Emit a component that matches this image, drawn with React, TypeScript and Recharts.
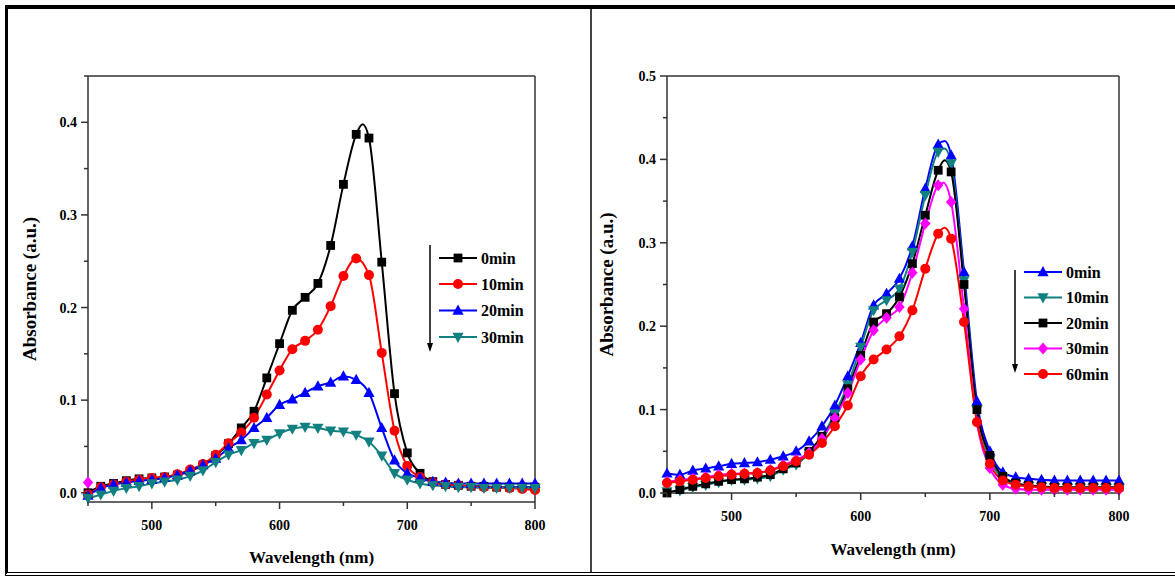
import React from 'react';
import { LineChart, Line, XAxis, YAxis, Legend, ReferenceLine } from 'recharts';

// ---------- data ----------
const WAVELENGTHS = [
  450, 460, 470, 480, 490, 500, 510, 520, 530, 540, 550, 560, 570, 580, 590, 600, 610, 620,
  630, 640, 650, 660, 670, 680, 690, 700, 710, 720, 730, 740, 750, 760, 770, 780, 790, 800,
];

const LEFT_NAMES = ['0min', '10min', '20min', '30min'];
const L_0MIN = [0.0, 0.007, 0.01, 0.013, 0.015, 0.016, 0.017, 0.019, 0.023, 0.03, 0.04, 0.053, 0.07, 0.088, 0.124, 0.161, 0.197, 0.211, 0.226, 0.267, 0.333, 0.387, 0.383, 0.249, 0.107, 0.043, 0.021, 0.012, 0.009, 0.008, 0.007, 0.007, 0.006, 0.006, 0.006, 0.006];
const L_10MIN = [-0.002, 0.006, 0.009, 0.012, 0.014, 0.016, 0.017, 0.02, 0.025, 0.031, 0.041, 0.0535, 0.065, 0.081, 0.106, 0.132, 0.155, 0.164, 0.176, 0.2015, 0.234, 0.253, 0.235, 0.151, 0.067, 0.029, 0.017, 0.011, 0.009, 0.008, 0.007, 0.006, 0.006, 0.005, 0.004, 0.003];
const L_20MIN = [-0.003, 0.005, 0.009, 0.011, 0.013, 0.014, 0.016, 0.019, 0.024, 0.03, 0.037, 0.048, 0.057, 0.07, 0.081, 0.095, 0.101, 0.108, 0.115, 0.119, 0.1257, 0.122, 0.108, 0.07, 0.035, 0.021, 0.016, 0.012, 0.011, 0.01, 0.01, 0.01, 0.01, 0.01, 0.01, 0.01];
const L_30MIN = [-0.006, -0.002, 0.002, 0.005, 0.007, 0.01, 0.012, 0.014, 0.018, 0.024, 0.033, 0.041, 0.046, 0.0535, 0.057, 0.064, 0.069, 0.071, 0.07, 0.067, 0.066, 0.0625, 0.055, 0.04, 0.021, 0.014, 0.01, 0.008, 0.007, 0.006, 0.006, 0.005, 0.005, 0.005, 0.005, 0.005];
const L_PEAK_NM = 665;
const L_0MIN_PEAK = 0.398;
const L_STRAY_NM = [450];
const L_STRAY_VAL = [0.011];

const RIGHT_NAMES = ['0min', '10min', '20min', '30min', '60min'];
const R_0MIN = [0.0235, 0.022, 0.027, 0.0295, 0.032, 0.035, 0.036, 0.037, 0.04, 0.044, 0.05, 0.062, 0.08, 0.105, 0.14, 0.18, 0.225, 0.239, 0.257, 0.296, 0.365, 0.418, 0.405, 0.265, 0.11, 0.05, 0.025, 0.019, 0.017, 0.016, 0.015, 0.015, 0.015, 0.015, 0.015, 0.015];
const R_10MIN = [0.002, 0.003, 0.007, 0.0096, 0.013, 0.0156, 0.016, 0.0174, 0.02, 0.028, 0.034, 0.048, 0.068, 0.095, 0.13, 0.175, 0.219, 0.231, 0.245, 0.289, 0.357, 0.409, 0.395, 0.255, 0.1, 0.04, 0.018, 0.01, 0.008, 0.007, 0.007, 0.006, 0.006, 0.006, 0.006, 0.006];
const R_20MIN = [0.0, 0.004, 0.008, 0.011, 0.014, 0.016, 0.017, 0.019, 0.022, 0.029, 0.036, 0.05, 0.068, 0.09, 0.125, 0.165, 0.205, 0.215, 0.235, 0.275, 0.333, 0.387, 0.385, 0.25, 0.1, 0.045, 0.02, 0.012, 0.009, 0.008, 0.007, 0.007, 0.007, 0.007, 0.007, 0.007];
const R_30MIN = [0.0134, 0.0156, 0.017, 0.019, 0.0216, 0.023, 0.0235, 0.024, 0.0276, 0.0336, 0.04, 0.048, 0.065, 0.09, 0.12, 0.16, 0.195, 0.21, 0.223, 0.264, 0.323, 0.369, 0.349, 0.221, 0.085, 0.03, 0.01, 0.005, 0.004, 0.004, 0.004, 0.004, 0.004, 0.004, 0.004, 0.004];
const R_60MIN = [0.012, 0.014, 0.016, 0.018, 0.02, 0.022, 0.023, 0.024, 0.027, 0.032, 0.038, 0.046, 0.06, 0.08, 0.105, 0.14, 0.16, 0.172, 0.188, 0.219, 0.269, 0.311, 0.305, 0.205, 0.085, 0.035, 0.015, 0.01, 0.008, 0.007, 0.006, 0.006, 0.006, 0.006, 0.006, 0.006];
const R_PEAK_NM = [665, 665, 665, 664, 665];
const R_PEAK_VAL = [0.422, 0.413, 0.399, 0.372, 0.318];

const X_TICKS = [450, 500, 550, 600, 650, 700, 750, 800];
const LEFT_Y_TICKS = [0, 0.05, 0.1, 0.15, 0.2, 0.25, 0.3, 0.35, 0.4, 0.45];
const RIGHT_Y_TICKS = [0, 0.05, 0.1, 0.15, 0.2, 0.25, 0.3, 0.35, 0.4, 0.45, 0.5];
const X_TITLE = 'Wavelength (nm)';
const Y_TITLE = 'Absorbance (a.u.)';

// ---------- styling ----------
const FONT = "'Liberation Serif', 'Times New Roman', serif";
const AXIS = '#333';
const BLACK = '#000000';
const RED = '#ff0000';
const BLUE = '#0000ff';
const TEAL = '#118080';
const MAGENTA = '#ff00ff';

type Shape = 'square' | 'circle' | 'up' | 'down' | 'diamond';

function buildSeries(values: number[], peakNm?: number, peakVal?: number) {
  const rows = WAVELENGTHS.map((nm, i) => ({ nm, v: values[i] }));
  if (peakNm != null && peakVal != null) {
    rows.push({ nm: peakNm, v: peakVal });
    rows.sort((a, b) => a.nm - b.nm);
  }
  return rows;
}

function Marker({ shape, x, y, color }: { shape: Shape; x: number; y: number; color: string }) {
  switch (shape) {
    case 'square':
      return <rect x={x - 4.4} y={y - 4.4} width={8.8} height={8.8} fill={color} />;
    case 'circle':
      return <circle cx={x} cy={y} r={5} fill={color} />;
    case 'up':
      return <polygon points={`${x},${y - 6} ${x - 5.6},${y + 4.2} ${x + 5.6},${y + 4.2}`} fill={color} />;
    case 'down':
      return <polygon points={`${x},${y + 6} ${x - 5.6},${y - 4.2} ${x + 5.6},${y - 4.2}`} fill={color} />;
    case 'diamond':
      return <polygon points={`${x},${y - 6} ${x + 5.2},${y} ${x},${y + 6} ${x - 5.2},${y}`} fill={color} />;
  }
  return null;
}

function makeDot(shape: Shape, color: string) {
  return (props: any) => {
    const { cx, cy, payload, index } = props;
    const key = `dot-${shape}-${index}`;
    if (cx == null || cy == null || !payload || payload.nm % 10 !== 0) return <g key={key} />;
    return (
      <g key={key}>
        <Marker shape={shape} x={cx} y={cy} color={color} />
      </g>
    );
  };
}

const XTick = (props: any) => {
  const { x, y, payload } = props;
  const major = payload.value % 100 === 0;
  return (
    <g>
      <line x1={x} x2={x} y1={y} y2={y + (major ? 7 : 4)} stroke={AXIS} strokeWidth={1.5} />
      {major && (
        <text x={x} y={y + 28} textAnchor="middle" fontFamily={FONT} fontWeight="bold" fontSize={14} fill="#000">
          {payload.value}
        </text>
      )}
    </g>
  );
};

const YTick = (props: any) => {
  const { x, y, payload } = props;
  const major = Math.round(payload.value * 100) % 10 === 0;
  return (
    <g>
      <line x1={x - (major ? 7 : 4)} x2={x} y1={y} y2={y} stroke={AXIS} strokeWidth={1.5} />
      {major && (
        <text x={x - 11} y={y + 5} textAnchor="end" fontFamily={FONT} fontWeight="bold" fontSize={14} fill="#000">
          {payload.value.toFixed(1)}
        </text>
      )}
    </g>
  );
};

type LegendItem = { name: string; color: string; shape: Shape };

function legendContent(items: LegendItem[], ys: number[], arrowTop: number, arrowBottom: number, w: number, h: number) {
  return () => (
    <svg width={w} height={h} style={{ display: 'block', overflow: 'visible' }}>
      <line x1={10} x2={10} y1={arrowTop} y2={arrowBottom - 6} stroke="#000" strokeWidth={1.5} />
      <polygon points={`${10},${arrowBottom} ${7},${arrowBottom - 9} ${13},${arrowBottom - 9}`} fill="#000" />
      {items.map((it, i) => (
        <g key={it.name}>
          <line x1={19} x2={57} y1={ys[i]} y2={ys[i]} stroke={it.color} strokeWidth={2} />
          <Marker shape={it.shape} x={38} y={ys[i]} color={it.color} />
          <text x={61} y={ys[i] + 5.5} fontFamily={FONT} fontWeight="bold" fontSize={16} fill="#000">
            {it.name}
          </text>
        </g>
      ))}
    </svg>
  );
}

const LEFT_ITEMS: LegendItem[] = [
  { name: LEFT_NAMES[0], color: BLACK, shape: 'square' },
  { name: LEFT_NAMES[1], color: RED, shape: 'circle' },
  { name: LEFT_NAMES[2], color: BLUE, shape: 'up' },
  { name: LEFT_NAMES[3], color: TEAL, shape: 'down' },
];
const RIGHT_ITEMS: LegendItem[] = [
  { name: RIGHT_NAMES[0], color: BLUE, shape: 'up' },
  { name: RIGHT_NAMES[1], color: TEAL, shape: 'down' },
  { name: RIGHT_NAMES[2], color: BLACK, shape: 'square' },
  { name: RIGHT_NAMES[3], color: MAGENTA, shape: 'diamond' },
  { name: RIGHT_NAMES[4], color: RED, shape: 'circle' },
];
const LEFT_VALUES = [L_0MIN, L_10MIN, L_20MIN, L_30MIN];
const RIGHT_VALUES = [R_0MIN, R_10MIN, R_20MIN, R_30MIN, R_60MIN];

const titleStyle = { fontFamily: FONT, fontWeight: 'bold' as const, fontSize: 17, fill: '#000' };
const yTitleStyle = { ...titleStyle, fontSize: 19, textAnchor: 'middle' as const };

function LeftChart() {
  return (
    <div style={{ position: 'absolute', left: 0, top: 0 }}>
      <LineChart width={590} height={576} margin={{ top: 76, right: 55, left: 28, bottom: 8 }}>
        <XAxis
          dataKey="nm"
          type="number"
          domain={[450, 800]}
          ticks={X_TICKS}
          interval={0}
          tickSize={0}
          tickMargin={0}
          tickLine={false}
          tick={<XTick />}
          height={66}
          axisLine={{ stroke: AXIS, strokeWidth: 1.5 }}
          label={{ value: X_TITLE, position: 'insideBottom', offset: 5, style: titleStyle }}
        />
        <YAxis
          type="number"
          domain={[-0.01, 0.45]}
          ticks={LEFT_Y_TICKS}
          interval={0}
          tickSize={0}
          tickMargin={0}
          tickLine={false}
          tick={<YTick />}
          width={60}
          axisLine={{ stroke: AXIS, strokeWidth: 1.5 }}
          label={{ value: Y_TITLE, angle: -90, position: 'insideLeft', offset: 1, style: yTitleStyle }}
        />
        <ReferenceLine y={0.45} stroke={AXIS} strokeWidth={1.5} />
        <ReferenceLine x={800} stroke={AXIS} strokeWidth={1.5} />
        {LEFT_ITEMS.map((it, i) => (
          <Line
            key={it.name}
            name={it.name}
            data={i === 0 ? buildSeries(LEFT_VALUES[i], L_PEAK_NM, L_0MIN_PEAK) : buildSeries(LEFT_VALUES[i])}
            dataKey="v"
            type="monotone"
            stroke={it.color}
            strokeWidth={2}
            dot={makeDot(it.shape, it.color)}
            activeDot={false}
            isAnimationActive={false}
          />
        ))}
        <Line
          data={L_STRAY_NM.map((nm, i) => ({ nm, v: L_STRAY_VAL[i] }))}
          dataKey="v"
          stroke="none"
          dot={makeDot('diamond', MAGENTA)}
          activeDot={false}
          legendType="none"
          isAnimationActive={false}
        />
        <Legend
          layout="vertical"
          align="center"
          verticalAlign="middle"
          wrapperStyle={{ left: 420, top: 235, width: 120, height: 125 }}
          content={legendContent(LEFT_ITEMS, [23, 49, 75.5, 102], 10, 117, 120, 125)}
        />
      </LineChart>
    </div>
  );
}

function RightChart() {
  return (
    <div style={{ position: 'absolute', left: 592, top: 0 }}>
      <LineChart width={583} height={576} margin={{ top: 76, right: 56, left: 15, bottom: 17 }}>
        <XAxis
          dataKey="nm"
          type="number"
          domain={[450, 800]}
          ticks={X_TICKS}
          interval={0}
          tickSize={0}
          tickMargin={0}
          tickLine={false}
          tick={<XTick />}
          height={66}
          axisLine={{ stroke: AXIS, strokeWidth: 1.5 }}
          label={{ value: X_TITLE, position: 'insideBottom', offset: 4, style: titleStyle }}
        />
        <YAxis
          type="number"
          domain={[0, 0.5]}
          ticks={RIGHT_Y_TICKS}
          interval={0}
          tickSize={0}
          tickMargin={0}
          tickLine={false}
          tick={<YTick />}
          width={60}
          axisLine={{ stroke: AXIS, strokeWidth: 1.5 }}
          label={{ value: Y_TITLE, angle: -90, position: 'insideLeft', offset: -1, style: yTitleStyle }}
        />
        <ReferenceLine y={0.5} stroke={AXIS} strokeWidth={1.5} />
        <ReferenceLine x={800} stroke={AXIS} strokeWidth={1.5} />
        {RIGHT_ITEMS.map((it, i) => (
          <Line
            key={it.name}
            name={it.name}
            data={buildSeries(RIGHT_VALUES[i], R_PEAK_NM[i], R_PEAK_VAL[i])}
            dataKey="v"
            type="monotone"
            stroke={it.color}
            strokeWidth={2}
            dot={makeDot(it.shape, it.color)}
            activeDot={false}
            isAnimationActive={false}
          />
        ))}
        <Legend
          layout="vertical"
          align="center"
          verticalAlign="middle"
          wrapperStyle={{ left: 413, top: 262, width: 120, height: 130 }}
          content={legendContent(RIGHT_ITEMS, [10, 35.5, 61, 86.5, 112], 8, 111, 120, 130)}
        />
      </LineChart>
    </div>
  );
}

export default function App() {
  return (
    <div style={{ position: 'absolute', left: 0, top: 0, width: 1175, height: 576, background: '#fff', overflow: 'hidden' }}>
      <LeftChart />
      <RightChart />
      <div
        style={{
          position: 'absolute',
          left: 5,
          top: 5,
          width: 1200,
          height: 563,
          borderTop: '4px solid #000',
          borderLeft: '3px solid #000',
          borderBottom: '4px double #000',
          pointerEvents: 'none',
        }}
      />
      <div style={{ position: 'absolute', left: 590, top: 9, width: 2, height: 563, background: '#444', pointerEvents: 'none' }} />
    </div>
  );
}
